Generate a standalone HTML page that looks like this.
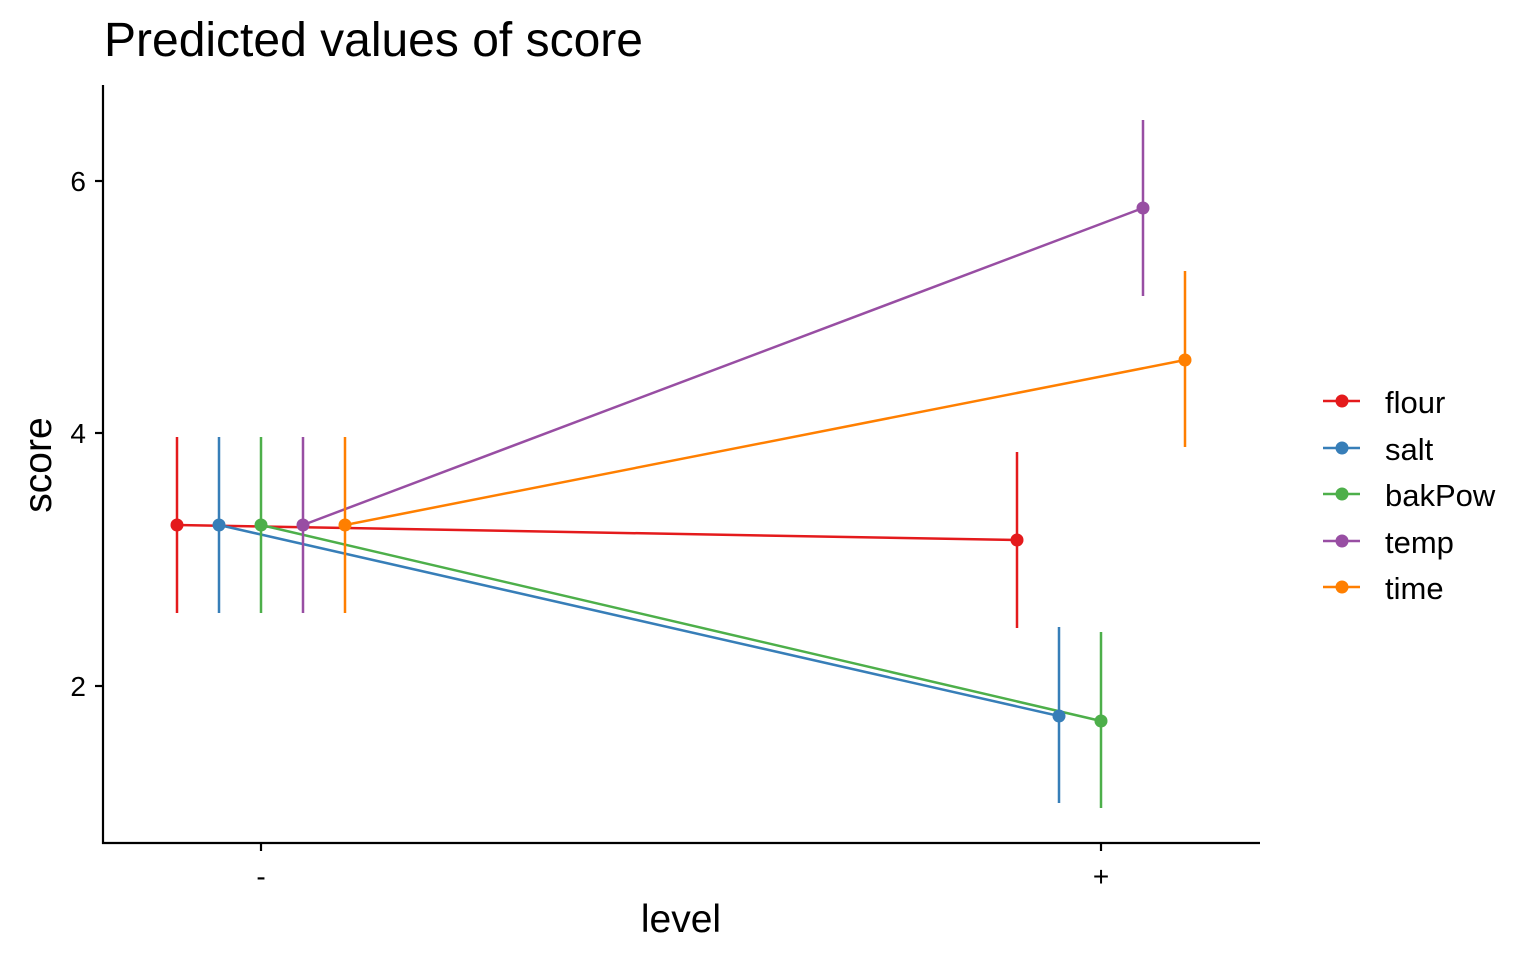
<!DOCTYPE html>
<html><head><meta charset="utf-8"><style>
html,body{margin:0;padding:0;background:#fff;}
svg{display:block;font-family:"Liberation Sans",Arial,sans-serif;}
</style></head><body>
<svg width="1536" height="960" viewBox="0 0 1536 960" xmlns="http://www.w3.org/2000/svg">
<rect width="1536" height="960" fill="#fff"/>
<text x="104" y="56" font-size="48" fill="#000">Predicted values of score</text>
<line x1="103" y1="85" x2="103" y2="844" stroke="#000" stroke-width="2.2"/>
<line x1="102" y1="843" x2="1260" y2="843" stroke="#000" stroke-width="2.2"/>
<g stroke="#000" stroke-width="2.2">
<line x1="95" y1="181" x2="103" y2="181"/>
<line x1="95" y1="433" x2="103" y2="433"/>
<line x1="95" y1="686" x2="103" y2="686"/>
<line x1="261" y1="843" x2="261" y2="851"/>
<line x1="1101" y1="843" x2="1101" y2="851"/>
</g>
<g font-size="28" fill="#000" text-anchor="end">
<text x="86" y="191">6</text>
<text x="86" y="443">4</text>
<text x="86" y="696">2</text>
</g>
<g font-size="28" fill="#000" text-anchor="middle">
<text x="261" y="886">-</text>
<text x="1101" y="886">+</text>
</g>
<text x="681" y="932" font-size="39" text-anchor="middle">level</text>
<text transform="translate(51,465) rotate(-90)" font-size="39" text-anchor="middle">score</text>
<g stroke-width="2.5" fill="none">
<g stroke="#E41A1C"><line x1="177" y1="525" x2="1017" y2="540"/><line x1="177" y1="437" x2="177" y2="613"/><line x1="1017" y1="452" x2="1017" y2="628"/></g>
<g stroke="#377EB8"><line x1="219" y1="525" x2="1059" y2="716"/><line x1="219" y1="437" x2="219" y2="613"/><line x1="1059" y1="627" x2="1059" y2="803"/></g>
<g stroke="#4DAF4A"><line x1="261" y1="525" x2="1101" y2="721"/><line x1="261" y1="437" x2="261" y2="613"/><line x1="1101" y1="632" x2="1101" y2="808"/></g>
<g stroke="#984EA3"><line x1="303" y1="525" x2="1143" y2="208"/><line x1="303" y1="437" x2="303" y2="613"/><line x1="1143" y1="120" x2="1143" y2="296"/></g>
<g stroke="#FF7F00"><line x1="345" y1="525" x2="1185" y2="360"/><line x1="345" y1="437" x2="345" y2="613"/><line x1="1185" y1="271" x2="1185" y2="447"/></g>
</g>
<g>
<circle cx="177" cy="525" r="6.5" fill="#E41A1C"/><circle cx="1017" cy="540" r="6.5" fill="#E41A1C"/>
<circle cx="219" cy="525" r="6.5" fill="#377EB8"/><circle cx="1059" cy="716" r="6.5" fill="#377EB8"/>
<circle cx="261" cy="525" r="6.5" fill="#4DAF4A"/><circle cx="1101" cy="721" r="6.5" fill="#4DAF4A"/>
<circle cx="303" cy="525" r="6.5" fill="#984EA3"/><circle cx="1143" cy="208" r="6.5" fill="#984EA3"/>
<circle cx="345" cy="525" r="6.5" fill="#FF7F00"/><circle cx="1185" cy="360" r="6.5" fill="#FF7F00"/>
</g>
<g stroke-width="2.5">
<line x1="1323" y1="401" x2="1360" y2="401" stroke="#E41A1C"/><circle cx="1342" cy="401" r="6.5" fill="#E41A1C"/>
<line x1="1323" y1="448" x2="1360" y2="448" stroke="#377EB8"/><circle cx="1342" cy="448" r="6.5" fill="#377EB8"/>
<line x1="1323" y1="494" x2="1360" y2="494" stroke="#4DAF4A"/><circle cx="1342" cy="494" r="6.5" fill="#4DAF4A"/>
<line x1="1323" y1="541" x2="1360" y2="541" stroke="#984EA3"/><circle cx="1342" cy="541" r="6.5" fill="#984EA3"/>
<line x1="1323" y1="587" x2="1360" y2="587" stroke="#FF7F00"/><circle cx="1342" cy="587" r="6.5" fill="#FF7F00"/>
</g>
<g font-size="31" fill="#000">
<text x="1385" y="413">flour</text>
<text x="1385" y="460">salt</text>
<text x="1385" y="506">bakPow</text>
<text x="1385" y="553">temp</text>
<text x="1385" y="599">time</text>
</g>
</svg>
</body></html>
